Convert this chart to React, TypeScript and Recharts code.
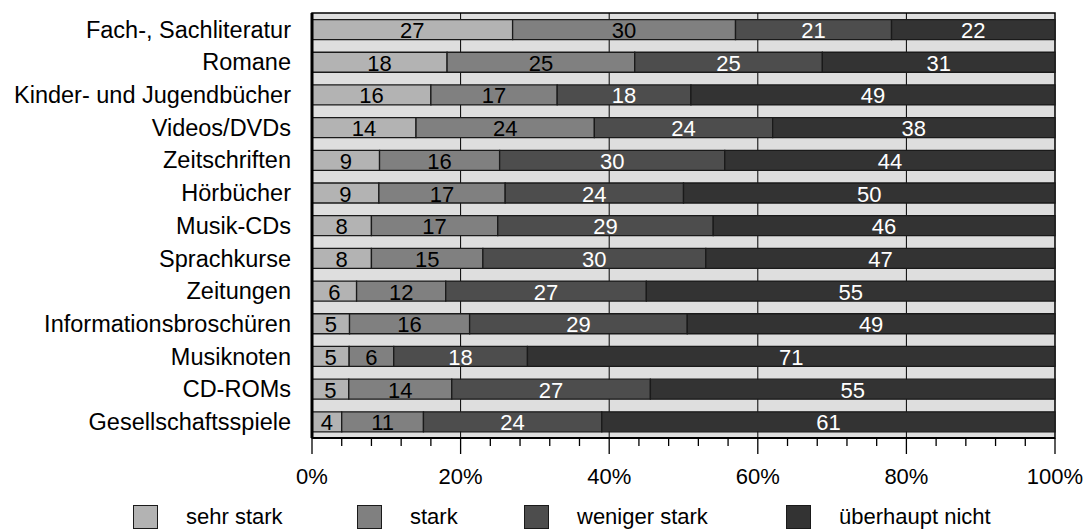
import React from 'react';
import { BarChart, Bar, XAxis, YAxis, CartesianGrid, LabelList, Legend, ReferenceArea } from 'recharts';

const categories = [
  'Fach-, Sachliteratur',
  'Romane',
  'Kinder- und Jugendbücher',
  'Videos/DVDs',
  'Zeitschriften',
  'Hörbücher',
  'Musik-CDs',
  'Sprachkurse',
  'Zeitungen',
  'Informationsbroschüren',
  'Musiknoten',
  'CD-ROMs',
  'Gesellschaftsspiele',
];
const sehrStark = [27, 18, 16, 14, 9, 9, 8, 8, 6, 5, 5, 5, 4];
const stark = [30, 25, 17, 24, 16, 17, 17, 15, 12, 16, 6, 14, 11];
const wenigerStark = [21, 25, 18, 24, 30, 24, 29, 30, 27, 29, 18, 27, 24];
const ueberhauptNicht = [22, 31, 49, 38, 44, 50, 46, 47, 55, 49, 71, 55, 61];

const seriesNames = ['sehr stark', 'stark', 'weniger stark', 'überhaupt nicht'];
const seriesKeys = ['s1', 's2', 's3', 's4'];
const seriesColors = ['#b3b3b3', '#808080', '#4d4d4d', '#333333'];
const labelColors = ['#000000', '#000000', '#ffffff', '#ffffff'];

const axisTicks = [0, 0.04, 0.08, 0.12, 0.16, 0.2, 0.24, 0.28, 0.32, 0.36, 0.4, 0.44, 0.48, 0.52, 0.56, 0.6, 0.64, 0.68, 0.72, 0.76, 0.8, 0.84, 0.88, 0.92, 0.96, 1];
const majorTicks = [0, 0.2, 0.4, 0.6, 0.8, 1];
const majorLabels = ['0%', '20%', '40%', '60%', '80%', '100%'];

const data = categories.map((name, i) => ({
  name,
  s1: sehrStark[i],
  s2: stark[i],
  s3: wenigerStark[i],
  s4: ueberhauptNicht[i],
}));

const FONT = '"Liberation Sans", Arial, sans-serif';
const LEGEND_ITEM_WIDTHS = [224, 167, 262, 240];

const XTick = (props: any) => {
  const { x, y, payload } = props;
  const v = payload.value;
  const idx = majorTicks.findIndex((m) => Math.abs(m - v) < 1e-6);
  const isMajor = idx >= 0;
  return (
    <g>
      <line x1={x} x2={x} y1={y} y2={y + (isMajor ? 16 : 8)} stroke="#000" strokeWidth={1.3} />
      {isMajor && (
        <text x={x} y={y + 38} textAnchor="middle" dominantBaseline="central" fontFamily={FONT} fontSize={22} fill="#000">
          {majorLabels[idx]}
        </text>
      )}
    </g>
  );
};

const makeLabel = (color: string) => (props: any) => {
  const { x, y, width, height, value } = props;
  return (
    <text
      x={x + width / 2}
      y={y + height / 2 + 1}
      textAnchor="middle"
      dominantBaseline="central"
      fontFamily={FONT}
      fontSize={22}
      fill={color}
    >
      {value}
    </text>
  );
};

const LegendContent = () => (
  <div style={{ display: 'flex', alignItems: 'center', height: 26, paddingLeft: 133, fontFamily: FONT, fontSize: 22, color: '#000' }}>
    {seriesNames.map((n, i) => (
      <div key={n} style={{ display: 'flex', alignItems: 'center', width: LEGEND_ITEM_WIDTHS[i], flex: 'none' }}>
        <div style={{ width: 25, height: 24, background: seriesColors[i], border: '1.5px solid #1a1a1a', boxSizing: 'border-box', marginRight: 28 }} />
        <span style={{ lineHeight: '26px', whiteSpace: 'nowrap' }}>{n}</span>
      </div>
    ))}
  </div>
);

export default function App() {
  return (
    <div style={{ position: 'absolute', left: 0, top: 0, width: 1087, height: 530, background: '#fff' }}>
      <BarChart
        width={1087}
        height={530}
        data={data}
        layout="vertical"
        stackOffset="expand"
        barCategoryGap="20%"
        margin={{ top: 13, right: 32, left: 0, bottom: 0 }}
      >
        <CartesianGrid
          horizontal={false}
          vertical={true}
          verticalValues={[0.2, 0.4, 0.6, 0.8]}
          stroke="#000"
          strokeWidth={1}
          fill="#dedede"
          fillOpacity={1}
        />
        <XAxis
          type="number"
          domain={[0, 1]}
          ticks={axisTicks}
          interval={0}
          tickLine={false}
          tickSize={0}
          tickMargin={0}
          height={66}
          axisLine={{ stroke: '#000', strokeWidth: 2 }}
          tick={<XTick />}
        />
        <YAxis
          type="category"
          dataKey="name"
          width={312}
          tickLine={false}
          tickSize={0}
          tickMargin={21}
          interval={0}
          axisLine={{ stroke: '#000', strokeWidth: 3 }}
          tick={{ fontFamily: FONT, fontSize: 23.5, fill: '#000' }}
        />
        {seriesKeys.map((k, i) => (
          <Bar
            key={k}
            dataKey={k}
            name={seriesNames[i]}
            stackId="a"
            fill={seriesColors[i]}
            stroke="#1a1a1a"
            strokeWidth={1.3}
            isAnimationActive={false}
          >
            <LabelList dataKey={k} content={makeLabel(labelColors[i])} />
          </Bar>
        ))}
        <ReferenceArea x1={0} x2={1} fill="none" stroke="#000" strokeWidth={1.5} ifOverflow="visible" />
        <Legend verticalAlign="bottom" align="left" height={26} content={<LegendContent />} />
      </BarChart>
    </div>
  );
}
